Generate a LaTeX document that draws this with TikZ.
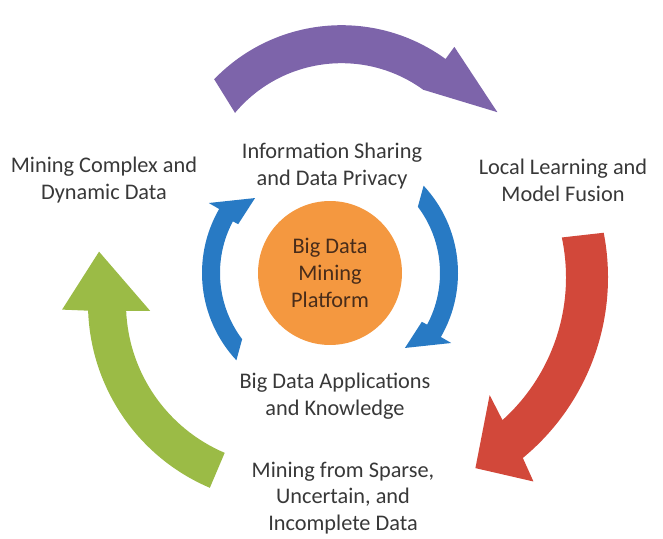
\documentclass[tikz,border=0pt]{standalone}
\usepackage{fontspec}
\setmainfont{Carlito}
\usetikzlibrary{calc, positioning}
\definecolor{color1}{RGB}{125,100,170}
\definecolor{color2}{RGB}{210,72,58}
\definecolor{color3}{RGB}{155,187,70}
\definecolor{color4}{RGB}{40,122,196}
\definecolor{color5}{RGB}{244,152,64}
\definecolor{color6}{RGB}{56,56,56}
\definecolor{color7}{RGB}{72,44,26}

\begin{document}
\begin{tikzpicture}[x=0.02cm, y=0.02cm,
                lbl/.style={align=center, text=color6, font=\fontsize{12.7}{15.2}\selectfont}]
                \useasboundingbox (0,0) rectangle (663,538);
                \coordinate (pc) at (341.5,335.8); \coordinate (rc) at (374,260.6);
                \coordinate (gc) at (288,234.3); \coordinate (oc) at (330,265);

                % outer cycle
                \fill [color1] ($(pc)+(136:177)$) arc[start angle=136, end angle=54, radius=177] -- ($(pc)+(54:192)$) -- ($(pc)+(30:180)$) -- ($(pc)+(54:139)$) arc[start angle=54, end angle=140, radius=139] -- cycle;
                \fill [color2] ($(rc)+(11:234)$) arc[start angle=11, end angle=-50.5, radius=234] -- ($(rc)+(-52:259)$) -- ($(rc)+(-62:216)$) -- ($(rc)+(-45.5:165)$) -- ($(rc)+(-48:192)$) arc[start angle=-48, end angle=12, radius=192] -- cycle;
                \fill [color3] ($(gc)+(247:200)$) arc[start angle=247, end angle=182, radius=200] -- ($(gc)+(181.5:226)$) -- ($(gc)+(164.6:196)$) -- ($(gc)+(183:138)$) -- ($(gc)+(182.5:162)$) arc[start angle=182.5, end angle=247, radius=162] -- cycle;

                % inner cycle
                \fill [color4] ($(oc)+(43:128)$) arc[start angle=43, end angle=-30, radius=128] -- ($(oc)+(-30:140)$) -- ($(oc)+(-45:106)$) -- ($(oc)+(-28:104)$) -- ($(oc)+(-28:110)$) arc[start angle=-28, end angle=37, radius=110] -- cycle;
                \fill [color4] ($(oc)+(223:128)$) arc[start angle=223, end angle=150, radius=128] -- ($(oc)+(150:140)$) -- ($(oc)+(135:106)$) -- ($(oc)+(152:104)$) -- ($(oc)+(152:110)$) arc[start angle=152, end angle=217, radius=110] -- cycle;

                \node[circle, fill=color5, minimum size=2.88cm, inner sep=0pt, align=center, text=color7, font=\fontsize{12.7}{15.2}\selectfont] (platform) at (oc) {Big Data\\Mining\\Platform};

                \node[lbl] (sharing) at (332,372) {Information Sharing\\and Data Privacy};
                \node[lbl] (complex) at (104,358) {Mining Complex and\\Dynamic Data};
                \node[lbl] (fusion) at (563,358) {Local Learning and\\Model Fusion};
                \node[lbl] (knowledge) at (335,142) {Big Data Applications\\and Knowledge};
                \node[lbl] (sparse) at (343,40) {Mining from Sparse,\\Uncertain, and\\Incomplete Data};
            \end{tikzpicture}
\end{document}
